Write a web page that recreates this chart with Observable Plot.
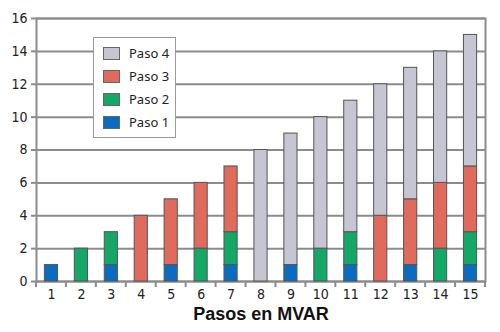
<!DOCTYPE html>
<html>
<head>
<meta charset="utf-8">
<script src="https://cdn.jsdelivr.net/npm/d3@7"></script>
<script src="https://cdn.jsdelivr.net/npm/@observablehq/plot@0.6"></script>
<style>
  html, body { margin: 0; padding: 0; background: #fff; }
  #wrap { position: relative; width: 500px; height: 332px; }
  #legend { position: absolute; left: 93px; top: 37px; width: 81px; height: 99px;
    background: #fff; border: 1.5px solid #9a9a9a; font-family: "Noto Sans", sans-serif;
    font-size: 13px; color: #222; box-sizing: content-box; }
  .row { position: absolute; left: 9px; height: 14px; display: flex; align-items: center; }
  .sw { width: 15px; height: 11px; border: 1px solid #666; margin-right: 9px; }
</style>
</head>
<body>
<div id="wrap"><div id="legend"></div></div>
<script>
const steps = [1, 2, 3, 4, 5, 6, 7, 8, 9, 10, 11, 12, 13, 14, 15];
const paso1 = [1, 0, 1, 0, 1, 0, 1, 0, 1, 0, 1, 0, 1, 0, 1];
const paso2 = [0, 2, 2, 0, 0, 2, 2, 0, 0, 2, 2, 0, 0, 2, 2];
const paso3 = [0, 0, 0, 4, 4, 4, 4, 0, 0, 0, 0, 4, 4, 4, 4];
const paso4 = [0, 0, 0, 0, 0, 0, 0, 8, 8, 8, 8, 8, 8, 8, 8];
const series = ["Paso 1", "Paso 2", "Paso 3", "Paso 4"];
const colors = ["#0a6cc0", "#13a865", "#e06a5c", "#c6c6d2"];
const yTicks = [0, 2, 4, 6, 8, 10, 12, 14, 16];
const xTitle = "Pasos en MVAR";

const values = [paso1, paso2, paso3, paso4];
const data = [];
series.forEach((s, j) => steps.forEach((st, i) => {
  if (values[j][i] > 0) data.push({step: st, serie: s, value: values[j][i]});
}));

const grid = "#8c8c8c";
const plot = Plot.plot({
  width: 500, height: 332,
  marginLeft: 36, marginRight: 15, marginTop: 18, marginBottom: 51,
  style: {fontFamily: "'Liberation Sans Narrow', 'Arial Narrow', 'DejaVu Sans Condensed', 'Roboto Condensed', sans-serif", fontSize: "14px", background: "#fff", color: "#222"},
  x: {domain: steps, paddingInner: 0.56, paddingOuter: 0.28, round: false, label: null},
  y: {domain: [0, 16], label: null},
  color: {domain: series, range: colors},
  marks: [
    Plot.ruleY(yTicks, {stroke: grid, strokeWidth: 2}),
    Plot.frame({stroke: grid, strokeWidth: 2}),
    Plot.barY(data, {x: "step", y: "value", fill: "serie", order: series, stroke: "#555", strokeWidth: 1}),
    Plot.axisY({ticks: yTicks, tickSize: 5, tickPadding: 4, stroke: grid, strokeWidth: 2, fill: "#222", label: null}),
    Plot.axisX({tickSize: 0, tickPadding: 8, fill: "#222", label: null}),
    Plot.text([xTitle], {frameAnchor: "bottom", dy: 38, fontWeight: "bold", fontSize: 18, fontFamily: "'Liberation Sans', Arial, sans-serif", fill: "#111"})
  ]
});
document.getElementById("wrap").prepend(plot);

// boundary tick marks below the x axis, positioned with the plot's own x scale
const xs = plot.scale("x");
const half = (xs.step - xs.bandwidth) / 2;
const y0 = plot.scale("y").apply(0);
const bounds = steps.map(s => xs.apply(s) - half).concat([xs.apply(steps[steps.length - 1]) + xs.bandwidth + half]);
d3.select(plot).append("g").selectAll("line").data(bounds).join("line")
  .attr("x1", d => d).attr("x2", d => d).attr("y1", y0).attr("y2", y0 + 6)
  .attr("stroke", grid).attr("stroke-width", 2);

// legend
const leg = document.getElementById("legend");
series.slice().reverse().forEach((s, k) => {
  const j = series.indexOf(s);
  const row = document.createElement("div");
  row.className = "row";
  row.style.top = (8 + k * 23) + "px";
  row.innerHTML = `<div class="sw" style="background:${colors[j]}"></div><span>${s}</span>`;
  leg.appendChild(row);
});
</script>
</body>
</html>
